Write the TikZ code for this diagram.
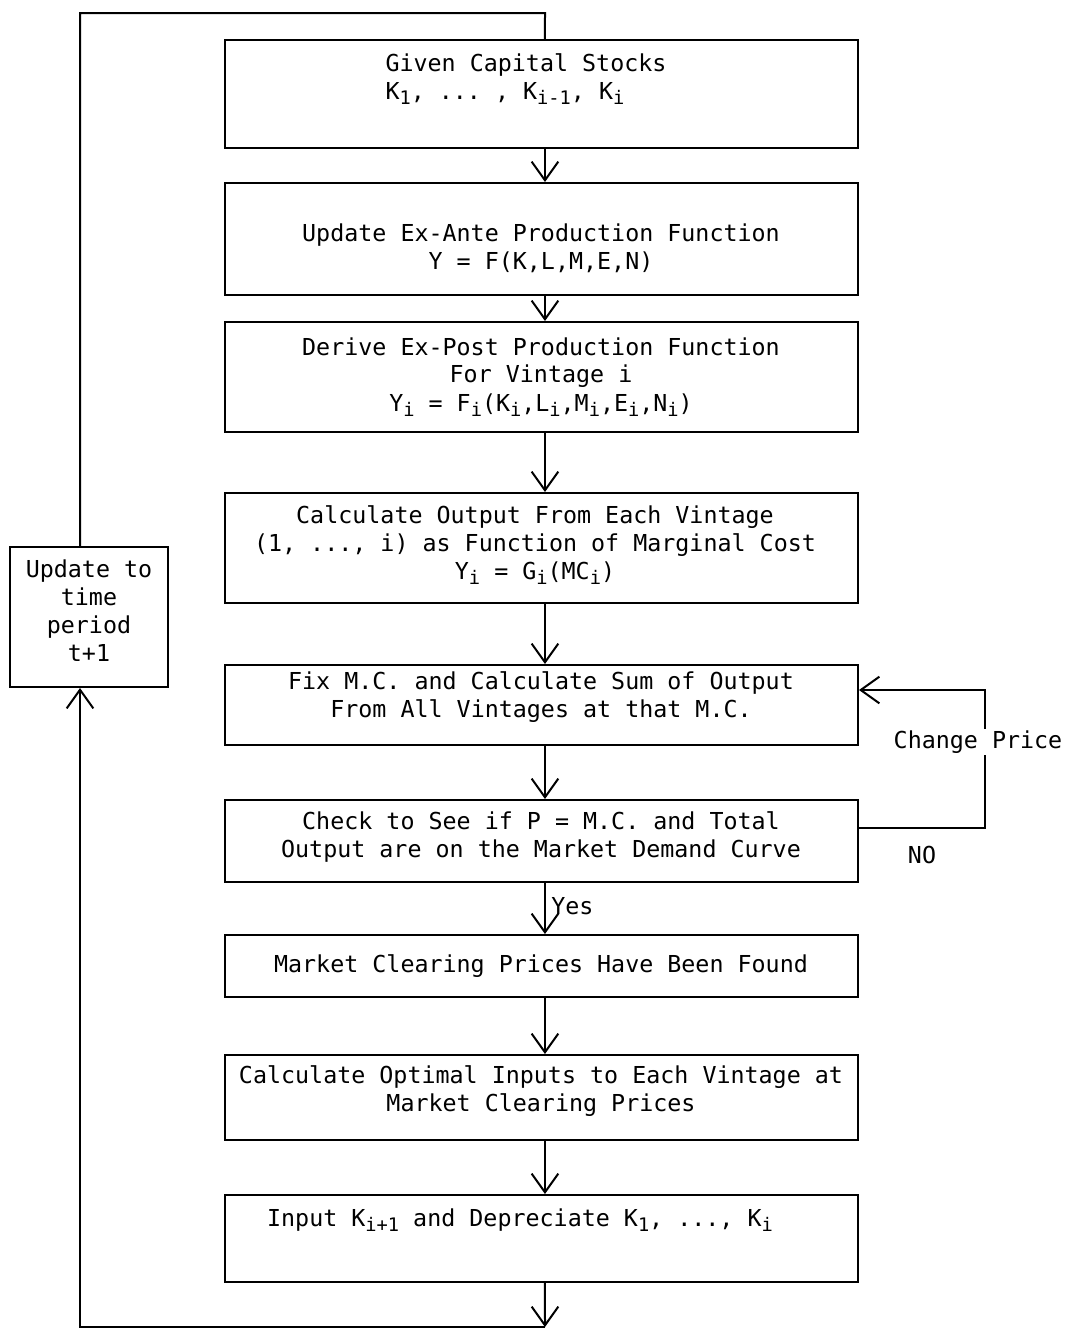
\documentclass[tikz,border=0pt]{standalone}
\usepackage{fontspec}
\setmonofont{DejaVu Sans Mono}
\usetikzlibrary{arrows.meta}
\newcommand{\lo}[1]{\raisebox{-0.45ex}{\fontsize{14}{14}\selectfont #1}}
\begin{document}
\begin{tikzpicture}[x=0.75pt,y=-0.75pt,
  every node/.style={font=\ttfamily\fontsize{17.5}{21}\selectfont},
  box/.style={draw, line width=1.5pt, minimum width=474.75pt, inner sep=0pt},
  txt/.style={align=center, inner sep=0pt},
  line/.style={line width=1.5pt},
  arr/.style={line width=1.5pt, -{Straight Barb[length=14pt,width=20pt]}}]
\useasboundingbox (0,0) rectangle (1066,1339);
% boxes
\node[box, minimum height=81pt]    (b1) at (541.5,94) {};
\node[box, minimum height=84pt]    (b2) at (541.5,239) {};
\node[box, minimum height=82.5pt]  (b3) at (541.5,377) {};
\node[box, minimum height=82.5pt]  (b4) at (541.5,548) {};
\node[box, minimum height=60pt]    (b5) at (541.5,705) {};
\node[box, minimum height=61.5pt]  (b6) at (541.5,841) {};
\node[box, minimum height=46.5pt]  (b7) at (541.5,966) {};
\node[box, minimum height=63.75pt] (b8) at (541.5,1097.5) {};
\node[box, minimum height=65.25pt] (b9) at (541.5,1238.5) {};
\node[box, minimum width=118.5pt, minimum height=105pt] (up) at (89,617) {};
% texts
\node[txt, align=left] (t1) at (526,79) {Given Capital Stocks\\K\lo{1}, ... , K\lo{i-1}, K\lo{i}};
\node[txt] (t2) at (541,248) {Update Ex-Ante Production Function\\Y = F(K,L,M,E,N)};
\node[txt] (t3) at (541,377) {Derive Ex-Post Production Function\\For Vintage i\\Y\lo{i} = F\lo{i}(K\lo{i},L\lo{i},M\lo{i},E\lo{i},N\lo{i})};
\node[txt] (t4) at (535,545) {Calculate Output From Each Vintage\\(1, ..., i) as Function of Marginal Cost\\Y\lo{i} = G\lo{i}(MC\lo{i})};
\node[txt] (t5) at (541,697) {Fix M.C. and Calculate Sum of Output\\From All Vintages at that M.C.};
\node[txt] (t6) at (541,837) {Check to See if P = M.C. and Total\\Output are on the Market Demand Curve};
\node[txt] (t7) at (541,966) {Market Clearing Prices Have Been Found};
\node[txt] (t8) at (541,1091) {Calculate Optimal Inputs to Each Vintage at\\Market Clearing Prices};
\node[txt] (t9) at (520,1220) {Input K\lo{i+1} and Depreciate K\lo{1}, ..., K\lo{i}};
\node[txt] (tu) at (89,611) {Update to\\time\\period\\t+1};
% main arrows
\draw[arr] ([xshift=2.6pt]b1.south) -- ([xshift=2.6pt]b2.north);
\draw[arr] ([xshift=2.6pt]b2.south) -- ([xshift=2.6pt]b3.north);
\draw[arr] ([xshift=2.6pt]b3.south) -- ([xshift=2.6pt]b4.north);
\draw[arr] ([xshift=2.6pt]b4.south) -- ([xshift=2.6pt]b5.north);
\draw[arr] ([xshift=2.6pt]b5.south) -- ([xshift=2.6pt]b6.north);
\draw[arr] ([xshift=2.6pt]b6.south) -- ([xshift=2.6pt]b7.north) node[pos=0.45, right, inner sep=4pt] (yes) {Yes};
\draw[arr] ([xshift=2.6pt]b7.south) -- ([xshift=2.6pt]b8.north);
\draw[arr] ([xshift=2.6pt]b8.south) -- ([xshift=2.6pt]b9.north);
% outer loop
\coordinate (cb) at (545,1327);
\coordinate (ct) at (545,13);
\draw[arr] ([xshift=2.6pt]b9.south) -- (cb);
\draw[arr] (cb) -| ([xshift=-6.75pt]up.south);
\draw[line] ([xshift=-6.75pt]up.north) |- (ct) -- ([xshift=2.6pt]b1.north);
% change price loop
\coordinate (cr) at (985,828);
\draw[arr] ([yshift=9.75pt]b6.east) -- (cr) |- ([yshift=11.25pt]b5.east);
\node[fill=white, inner sep=1pt] (cp) at (978,742) {Change Price};
\node (no) at (922,855) {NO};
\end{tikzpicture}
\end{document}
